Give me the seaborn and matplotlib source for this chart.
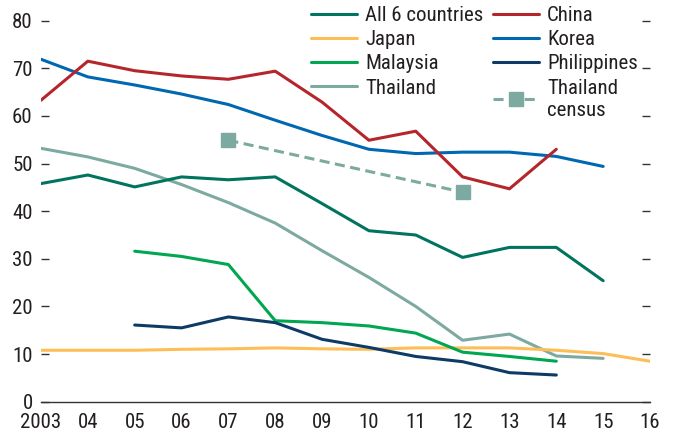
import numpy as np
import pandas as pd
import matplotlib
matplotlib.use('Agg')
import matplotlib.pyplot as plt
from matplotlib.lines import Line2D
from matplotlib import font_manager
import seaborn as sns

# Data
years = list(range(2003, 2017))
all6 = [45.8, 47.6, 45.1, 47.2, 46.6, 47.2, 41.6, 35.9, 35.0, 30.3, 32.4, 32.4, 25.4]
china = [63.3, 71.5, 69.5, 68.4, 67.7, 69.4, 62.9, 54.9, 56.8, 47.2, 44.7, 53.0]
japan = [10.8, 10.8, 10.8, 11.0, 11.1, 11.3, 11.1, 11.0, 11.3, 11.3, 11.3, 10.8, 10.1, 8.5]
korea = [71.9, 68.2, 66.5, 64.6, 62.4, 59.1, 55.9, 53.0, 52.1, 52.4, 52.4, 51.5, 49.4]
malaysia_years = list(range(2005, 2015))
malaysia = [31.6, 30.5, 28.8, 17.0, 16.6, 15.9, 14.4, 10.4, 9.5, 8.5]
philippines_years = list(range(2005, 2015))
philippines = [16.1, 15.5, 17.8, 16.6, 13.1, 11.4, 9.5, 8.4, 6.1, 5.6]
thailand = [53.2, 51.4, 49.0, 45.6, 41.8, 37.5, 31.7, 26.1, 20.0, 12.9, 14.2, 9.6, 9.1]
census_years = [2007, 2012]
census = [54.9, 44.0]

tick_labels = ['2003', '04', '05', '06', '07', '08', '09', '10', '11', '12',
               '13', '14', '15', '16']

colors = {
    'All 6 countries': '#00745E',
    'China': '#B5262C',
    'Japan': '#FDBE57',
    'Korea': '#0067B1',
    'Malaysia': '#00A650',
    'Philippines': '#0D3B66',
    'Thailand': '#7DAAA0',
    'Thailand census': '#7DAAA0',
}

# long table for seaborn
rows = []
for name, xs, ys in [('Thailand', years, thailand),
                     ('Japan', years, japan),
                     ('Malaysia', malaysia_years, malaysia),
                     ('Philippines', philippines_years, philippines),
                     ('All 6 countries', years, all6),
                     ('Korea', years, korea),
                     ('China', years, china)]:
    for x, y in zip(xs, ys):
        rows.append((name, x, y))
df = pd.DataFrame(rows, columns=['series', 'year', 'value'])
census_df = pd.DataFrame({'year': census_years, 'value': census})

sns.set_style('white')
names = {f.name for f in font_manager.fontManager.ttflist}
fam = 'Liberation Sans'
fsize = 14
for cand in ['Liberation Sans Narrow', 'Roboto Condensed', 'Arial Narrow']:
    if cand in names:
        fam = cand
        fsize = 15
        break
plt.rcParams['font.family'] = [fam, 'DejaVu Sans']
text_color = '#231F20'

fig = plt.figure(figsize=(6.73, 4.32), dpi=100)
ax = fig.add_axes([41 / 673, 1 - 401.7 / 432, (650 - 41) / 673, (401.7 - 20.7) / 432])

lw = 2.2
sns.lineplot(data=df, x='year', y='value', hue='series',
             hue_order=['Thailand', 'Japan', 'Malaysia', 'Philippines',
                        'All 6 countries', 'Korea', 'China'],
             palette=colors, linewidth=lw, legend=False, ax=ax)
sns.lineplot(data=census_df, x='year', y='value', color=colors['Thailand census'],
             linewidth=lw, dashes=False, ax=ax, legend=False)
ax.lines[-1].set_dashes((3.3, 1.8))
ax.plot(census_years, census, linestyle='none', marker='s', markersize=10,
        color=colors['Thailand census'])

ax.set_xlim(2003, 2016)
ax.set_ylim(0, 80)
ax.set_xticks(years)
ax.set_xticklabels(tick_labels)
ax.set_yticks(range(0, 81, 10))
ax.set_xlabel('')
ax.set_ylabel('')

for s in ['left', 'top', 'right']:
    ax.spines[s].set_visible(False)
ax.spines['bottom'].set_color('#333333')
ax.spines['bottom'].set_linewidth(1.0)

ax.tick_params(axis='x', direction='in', length=5.5, width=1.0, color='#333333',
               pad=8, labelsize=fsize, labelcolor=text_color)
ax.tick_params(axis='y', direction='in', length=5.5, width=1.0, color='#333333',
               left=True, right=True, labelleft=True, labelright=False,
               pad=6, labelsize=fsize, labelcolor=text_color)

# legend
handles = []
labels = []
for name in ['All 6 countries', 'Japan', 'Malaysia', 'Thailand',
             'China', 'Korea', 'Philippines']:
    handles.append(Line2D([0], [0], color=colors[name], linewidth=lw))
    labels.append(name)
handles.append(Line2D([0], [0], color=colors['Thailand census'], linewidth=lw,
                      dashes=(3.3, 1.8), marker='s', markersize=10))
labels.append('Thailand\ncensus')

leg = fig.legend(handles, labels, ncol=2, loc='upper left',
                 bbox_to_anchor=(311 / 673, 1 - 6 / 432),
                 frameon=False, fontsize=fsize, handlelength=2.2,
                 handletextpad=0.4, columnspacing=0.45, labelspacing=0.25,
                 borderpad=0, borderaxespad=0)
for t in leg.get_texts():
    t.set_color(text_color)

fig.savefig('out.png', dpi=100)
